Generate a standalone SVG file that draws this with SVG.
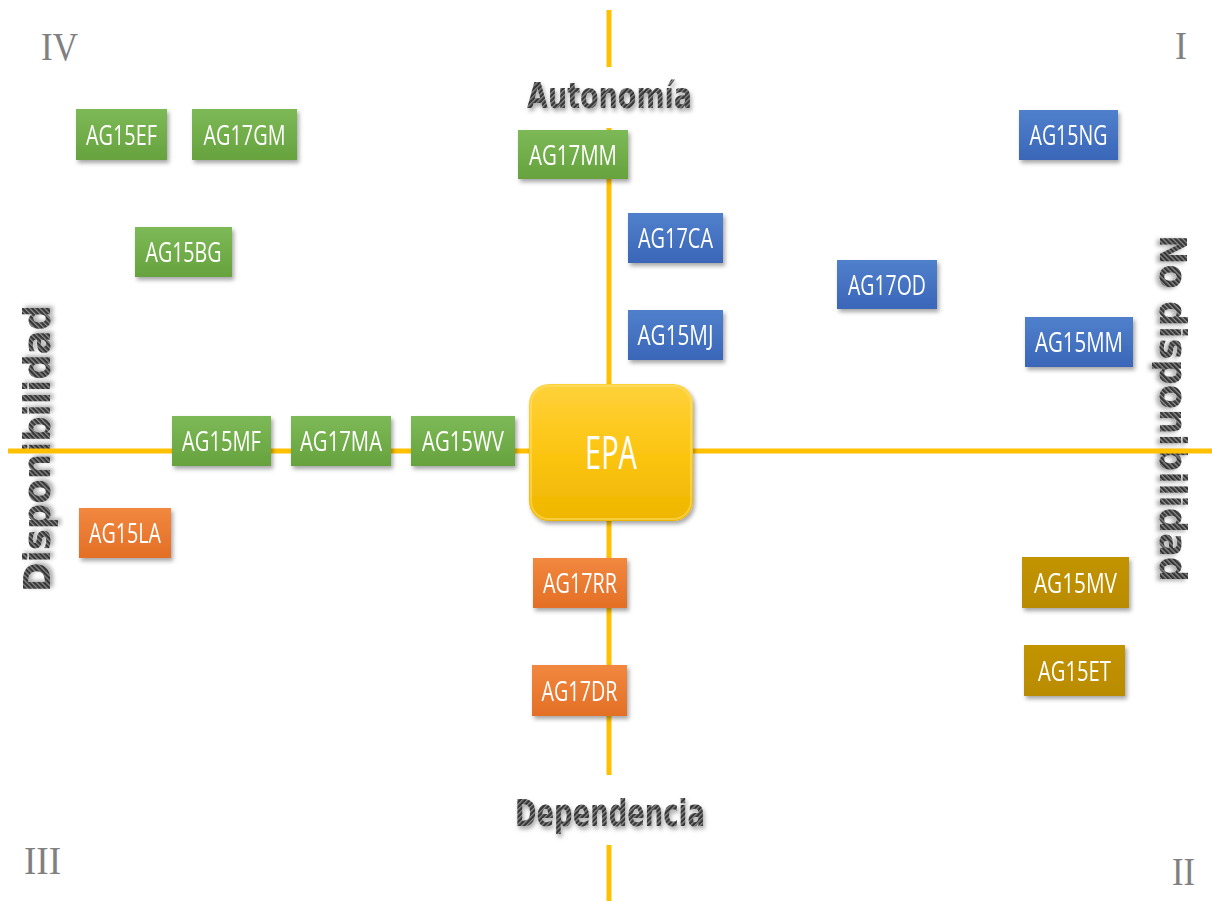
<svg xmlns="http://www.w3.org/2000/svg" width="1212" height="901" viewBox="0 0 1212 901">
  <defs>
    <!-- diagonal hatch used for the axis captions -->
    <pattern id="hatch" patternUnits="userSpaceOnUse" width="3.5" height="3.5" patternTransform="rotate(45)">
      <rect width="3.5" height="3.5" fill="#353535"/>
      <rect width="1.3" height="3.5" fill="#8c8c8c"/>
    </pattern>
    <filter id="captionShadow" x="-10%" y="-20%" width="130%" height="160%">
      <feDropShadow dx="1.5" dy="3" stdDeviation="2" flood-color="#000" flood-opacity="0.35"/>
    </filter>
    <filter id="boxShadow" x="-10%" y="-15%" width="125%" height="140%">
      <feDropShadow dx="2" dy="3" stdDeviation="2" flood-color="#000" flood-opacity="0.35"/>
    </filter>
    <linearGradient id="gGreen" x1="0" y1="0" x2="0" y2="1">
      <stop offset="0" stop-color="#7db957"/>
      <stop offset="1" stop-color="#66a23d"/>
    </linearGradient>
    <linearGradient id="gBlue" x1="0" y1="0" x2="0" y2="1">
      <stop offset="0" stop-color="#5080cc"/>
      <stop offset="1" stop-color="#3a66b8"/>
    </linearGradient>
    <linearGradient id="gOrange" x1="0" y1="0" x2="0" y2="1">
      <stop offset="0" stop-color="#f2883f"/>
      <stop offset="1" stop-color="#e36f26"/>
    </linearGradient>
    <linearGradient id="gGold" x1="0" y1="0" x2="0" y2="1">
      <stop offset="0" stop-color="#c29406"/>
      <stop offset="1" stop-color="#b98b00"/>
    </linearGradient>
    <linearGradient id="gEpa" x1="0" y1="0" x2="0" y2="1">
      <stop offset="0" stop-color="#ffd23a"/>
      <stop offset="0.5" stop-color="#fcc512"/>
      <stop offset="1" stop-color="#eeb600"/>
    </linearGradient>
  </defs>
  <style>
    .axis { stroke: #ffc000; stroke-width: 5; fill: none; }
    .caption { font-family: "DejaVu Sans", sans-serif; font-weight: bold; fill: url(#hatch); filter: url(#captionShadow); }
    .numeral { font-family: "Liberation Serif", serif; font-size: 40px; fill: #808080; }
    .box { filter: url(#boxShadow); }
    .green { fill: url(#gGreen); }
    .blue { fill: url(#gBlue); }
    .orange { fill: url(#gOrange); }
    .gold { fill: url(#gGold); }
    .label { font-family: "Open Sans", "Noto Sans", sans-serif; font-size: 27px; fill: #ffffff; text-anchor: middle; }
  </style>

  <rect width="1212" height="901" fill="#ffffff"/>

  <!-- quadrant numerals -->
  <g id="quadrants">
    <text class="numeral" x="41" y="60" textLength="37" lengthAdjust="spacingAndGlyphs">IV</text>
    <text class="numeral" x="1175" y="59" textLength="12" lengthAdjust="spacingAndGlyphs">I</text>
    <text class="numeral" x="24" y="874" textLength="37" lengthAdjust="spacingAndGlyphs">III</text>
    <text class="numeral" x="1172" y="885" textLength="23" lengthAdjust="spacingAndGlyphs">II</text>
  </g>

  <!-- axis captions -->
  <g id="captions">
    <text class="caption" x="527" y="108" font-size="35" textLength="165" lengthAdjust="spacingAndGlyphs">Autonomía</text>
    <text class="caption" x="515" y="826" font-size="38" textLength="190" lengthAdjust="spacingAndGlyphs">Dependencia</text>
    <text class="caption" transform="translate(50,592) rotate(-90)" x="0" y="0" font-size="38" textLength="287" lengthAdjust="spacingAndGlyphs">Disponibilidad</text>
    <text class="caption" transform="translate(1160,235) rotate(90)" x="0" y="0" font-size="38" textLength="347" lengthAdjust="spacingAndGlyphs">No disponibilidad</text>
  </g>

  <!-- axes -->
  <g id="connectors">
    <line class="axis" x1="609" y1="10" x2="609" y2="67"/>
    <line class="axis" x1="609" y1="128" x2="609" y2="392"/>
    <line class="axis" x1="609" y1="512" x2="609" y2="775"/>
    <line class="axis" x1="609" y1="845" x2="609" y2="901"/>
    <line class="axis" x1="8" y1="451" x2="1212" y2="451"/>
  </g>

  <!-- centre node -->
  <g id="EPA">
    <rect x="529" y="384" width="164" height="137" rx="20" fill="url(#gEpa)" filter="url(#boxShadow)"/>
    <rect x="531" y="386" width="160" height="133" rx="18" fill="none" stroke="#ffe17a" stroke-opacity="0.5" stroke-width="2"/>
    <text x="611" y="469" font-family="Open Sans, Noto Sans, sans-serif" font-size="46" fill="#ffffff" text-anchor="middle" textLength="52" lengthAdjust="spacingAndGlyphs">EPA</text>
  </g>

  <!-- quadrant IV -->
  <g id="AG15EF" class="box"><rect class="green" x="76" y="109" width="91" height="51"/><text class="label" x="121.5" y="144.5" textLength="71" lengthAdjust="spacingAndGlyphs">AG15EF</text></g>
  <g id="AG17GM" class="box"><rect class="green" x="192" y="109" width="105" height="51"/><text class="label" x="244.5" y="144.5" textLength="82" lengthAdjust="spacingAndGlyphs">AG17GM</text></g>
  <g id="AG15BG" class="box"><rect class="green" x="135" y="227" width="97" height="50"/><text class="label" x="183.5" y="262" textLength="76" lengthAdjust="spacingAndGlyphs">AG15BG</text></g>
  <g id="AG17MM" class="box"><rect class="green" x="518" y="130" width="110" height="49"/><text class="label" x="573" y="164.5" textLength="88" lengthAdjust="spacingAndGlyphs">AG17MM</text></g>
  <g id="AG15MF" class="box"><rect class="green" x="172" y="416" width="99" height="50"/><text class="label" x="221.5" y="451" textLength="79" lengthAdjust="spacingAndGlyphs">AG15MF</text></g>
  <g id="AG17MA" class="box"><rect class="green" x="291" y="416" width="100" height="50"/><text class="label" x="341" y="451" textLength="82" lengthAdjust="spacingAndGlyphs">AG17MA</text></g>
  <g id="AG15WV" class="box"><rect class="green" x="411" y="416" width="104" height="50"/><text class="label" x="463" y="451" textLength="82" lengthAdjust="spacingAndGlyphs">AG15WV</text></g>

  <!-- quadrant I -->
  <g id="AG17CA" class="box"><rect class="blue" x="628" y="213" width="95" height="50"/><text class="label" x="675.5" y="248" textLength="75" lengthAdjust="spacingAndGlyphs">AG17CA</text></g>
  <g id="AG15MJ" class="box"><rect class="blue" x="628" y="310" width="95" height="50"/><text class="label" x="675.5" y="345" textLength="76" lengthAdjust="spacingAndGlyphs">AG15MJ</text></g>
  <g id="AG17OD" class="box"><rect class="blue" x="837" y="260" width="100" height="49"/><text class="label" x="887" y="294.5" textLength="78" lengthAdjust="spacingAndGlyphs">AG17OD</text></g>
  <g id="AG15NG" class="box"><rect class="blue" x="1019" y="110" width="99" height="50"/><text class="label" x="1068.5" y="145" textLength="78" lengthAdjust="spacingAndGlyphs">AG15NG</text></g>
  <g id="AG15MM" class="box"><rect class="blue" x="1025" y="317" width="108" height="50"/><text class="label" x="1079" y="352" textLength="88" lengthAdjust="spacingAndGlyphs">AG15MM</text></g>

  <!-- quadrant III -->
  <g id="AG15LA" class="box"><rect class="orange" x="79" y="508" width="92" height="50"/><text class="label" x="125" y="543" textLength="72" lengthAdjust="spacingAndGlyphs">AG15LA</text></g>
  <g id="AG17RR" class="box"><rect class="orange" x="533" y="558" width="94" height="50"/><text class="label" x="580" y="593" textLength="74" lengthAdjust="spacingAndGlyphs">AG17RR</text></g>
  <g id="AG17DR" class="box"><rect class="orange" x="532" y="665" width="95" height="51"/><text class="label" x="579.5" y="700.5" textLength="76" lengthAdjust="spacingAndGlyphs">AG17DR</text></g>

  <!-- quadrant II -->
  <g id="AG15MV" class="box"><rect class="gold" x="1022" y="557" width="107" height="51"/><text class="label" x="1075.5" y="592.5" textLength="83" lengthAdjust="spacingAndGlyphs">AG15MV</text></g>
  <g id="AG15ET" class="box"><rect class="gold" x="1024" y="645" width="101" height="51"/><text class="label" x="1074.5" y="680.5" textLength="73" lengthAdjust="spacingAndGlyphs">AG15ET</text></g>
</svg>
